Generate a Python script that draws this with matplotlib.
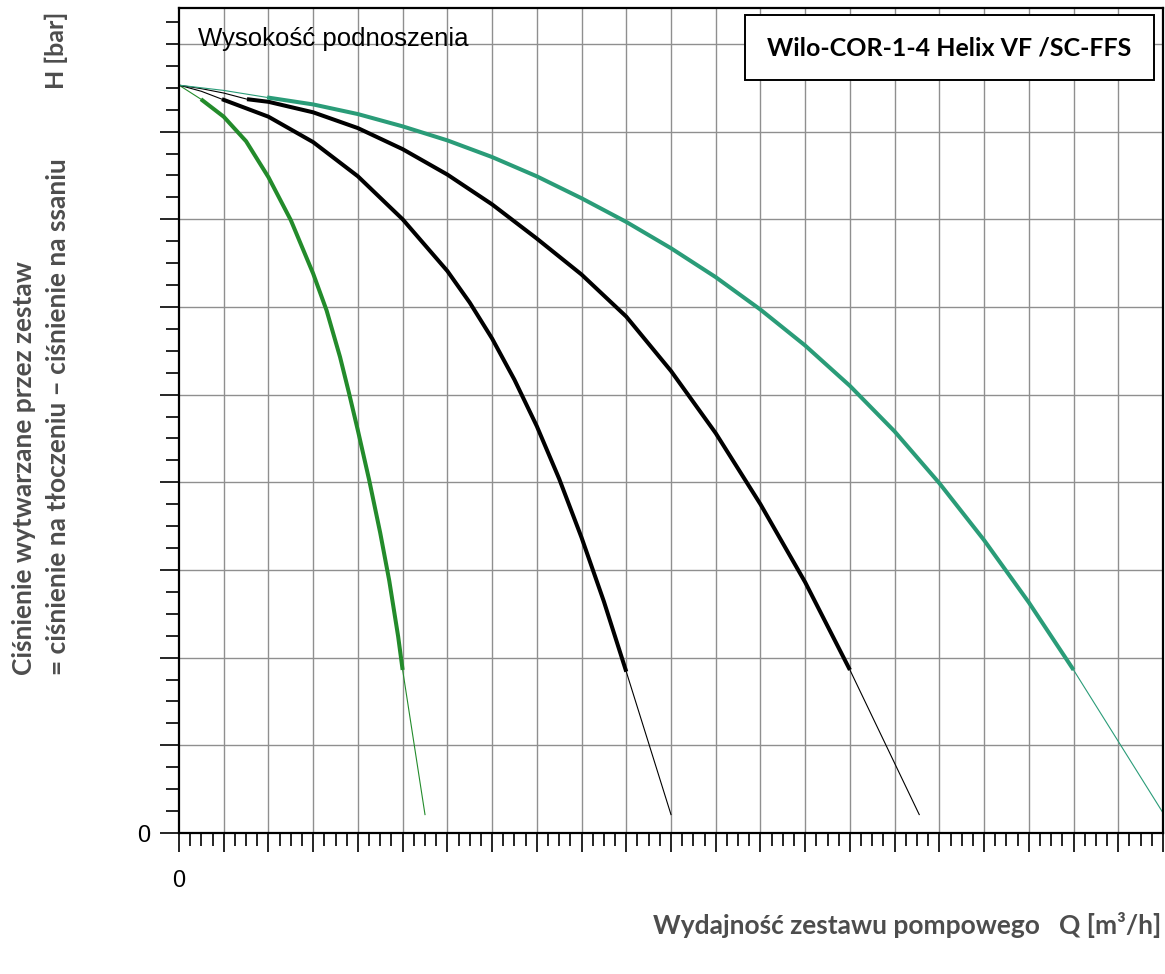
import numpy as np
import matplotlib
matplotlib.use("Agg")
import matplotlib.pyplot as plt
from matplotlib.patches import Rectangle

# Charakterystyki Q-H
H0 = 8.53  # ciśnienie przy Q = 0

# 1 pompa (zielona)
q1_head = [0.0, 0.49]
h1_head = [H0, 8.37]
q1 = [0.49, 1.0, 1.5, 2.0, 2.5, 3.0, 3.3, 3.6, 3.8, 4.0, 4.25, 4.5, 4.7, 4.9, 5.0]
h1 = [8.37, 8.17, 7.89, 7.48, 6.99, 6.38, 5.96, 5.43, 5.02, 4.59, 4.03, 3.42, 2.88, 2.24, 1.86]
q1_tail = [5.0, 5.5]
h1_tail = [1.86, 0.21]

# 2 pompy
q2_head = [0.0, 0.5, 0.96]
h2_head = [H0, 8.46, 8.37]
q2 = [0.96, 2.0, 3.0, 4.0, 5.0, 6.0, 6.5, 7.0, 7.5, 8.0, 8.5, 9.0, 9.5, 10.0]
h2 = [8.37, 8.17, 7.88, 7.49, 7.0, 6.41, 6.05, 5.64, 5.17, 4.64, 4.04, 3.37, 2.64, 1.84]
q2_tail = [10.0, 11.0]
h2_tail = [1.84, 0.21]

# 3 pompy
q3_head = [0.0, 0.5, 1.0, 1.52]
h3_head = [H0, 8.49, 8.44, 8.37]
q3 = [1.52, 2, 3, 4, 5, 6, 7, 8, 9, 10, 11, 12, 13, 14, 15.0]
h3 = [8.37, 8.34, 8.22, 8.04, 7.80, 7.51, 7.17, 6.78, 6.37, 5.89, 5.27, 4.56, 3.75, 2.86, 1.86]
q3_tail = [15.0, 16.55]
h3_tail = [1.86, 0.21]

# 4 pompy (turkusowa)
q4_head = [0.0, 1.0, 1.97]
h4_head = [H0, 8.47, 8.39]
q4 = [1.97, 3, 4, 5, 6, 7, 8, 9, 10, 11, 12, 13, 14, 15, 16, 17, 18, 19, 20]
h4 = [8.39, 8.31, 8.20, 8.06, 7.90, 7.71, 7.49, 7.24, 6.97, 6.67, 6.34, 5.97,
      5.56, 5.10, 4.58, 3.99, 3.34, 2.63, 1.86]
q4_tail = [20.0, 22.0]
h4_tail = [1.86, 0.23]

GREEN = "#238b2b"
TEAL = "#2a9c78"
LABEL_GRAY = "#4d4d4d"

W, H = 1165, 974
fig = plt.figure(figsize=(W / 100, H / 100), dpi=100)
fig.patch.set_facecolor("white")
ax = fig.add_axes([179 / W, 1 - 833 / H, 984 / W, 825 / H])

ax.set_xlim(0, 22)
ax.set_ylim(0, 9.41)

# Siatka
for xv in range(1, 22):
    ax.axvline(xv, color="#8f8f8f", lw=1.0, zorder=0)
for yv in range(1, 10):
    ax.axhline(yv, color="#8f8f8f", lw=1.0, zorder=0)

# Krzywe
curves = [
    (q1_head, h1_head, q1, h1, q1_tail, h1_tail, GREEN),
    (q2_head, h2_head, q2, h2, q2_tail, h2_tail, "black"),
    (q3_head, h3_head, q3, h3, q3_tail, h3_tail, "black"),
    (q4_head, h4_head, q4, h4, q4_tail, h4_tail, TEAL),
]
for qa, ha, qb, hb, qc, hc, col in curves:
    ax.plot(qa, ha, color=col, lw=0.8, zorder=3)
    ax.plot(qb, hb, color=col, lw=2.9, zorder=3, solid_capstyle="butt",
            solid_joinstyle="round")
    ax.plot(qc, hc, color=col, lw=0.8, zorder=3)

# Osie i znaczniki
ax.set_xticks(range(23))
ax.set_xticks(np.arange(0, 22.01, 0.25), minor=True)
ax.set_xticklabels(["0"] + [""] * 22)
ax.set_yticks(range(9))
ax.set_yticks(np.arange(0, 9.3, 0.25), minor=True)
ax.set_yticklabels(["0"] + [""] * 8)
ax.tick_params(axis="both", which="both", direction="out", color="black",
               labelsize=17, labelcolor="black")
ax.tick_params(axis="x", which="major", length=13.5, width=1.2, pad=13)
ax.tick_params(axis="x", which="minor", length=9.5, width=1.2)
ax.tick_params(axis="y", which="major", length=14, width=1.2, pad=7)
ax.tick_params(axis="y", which="minor", length=9.5, width=1.2)
for lbl in ax.get_xticklabels() + ax.get_yticklabels():
    lbl.set_fontfamily("Liberation Sans")
for sp in ax.spines.values():
    sp.set_linewidth(1.6)
    sp.set_color("black")
    sp.set_zorder(4)

# Opisy
ax.text(198 / W, 1 - 46 / H, "Wysokość podnoszenia", transform=fig.transFigure,
        fontsize=18.5, family="Liberation Sans", va="baseline", ha="left", zorder=5)

box = Rectangle(((745 - 179) / 984, (833 - 80) / 825), 409 / 984, 65 / 825,
                transform=ax.transAxes, facecolor="white", edgecolor="black",
                lw=1.4, zorder=5)
ax.add_patch(box)
ax.text((949.5 - 179) / 984, (833 - 47.5) / 825, "Wilo-COR-1-4 Helix VF /SC-FFS",
        transform=ax.transAxes, ha="center", va="center", fontsize=18,
        family="Lato", fontweight="bold", zorder=6)

fig.text(24 / W, 1 - 675 / H, "Ciśnienie wytwarzane przez zestaw", rotation=90,
         ha="center", va="bottom", fontsize=19, family="Lato", fontweight="bold",
         color=LABEL_GRAY)
fig.text(58 / W, 1 - 675 / H, "= ciśnienie na tłoczeniu – ciśnienie na ssaniu",
         rotation=90, ha="center", va="bottom", fontsize=19, family="Lato",
         fontweight="bold", color=LABEL_GRAY)
fig.text(56 / W, 1 - 12 / H, "H [bar]", rotation=90, ha="center", va="top",
         fontsize=18, family="Lato", fontweight="bold", color=LABEL_GRAY)
fig.text(1161 / W, 1 - 925 / H, "Wydajność zestawu pompowego   Q [m³/h]",
         ha="right", va="center", fontsize=19, family="Lato", fontweight="bold",
         color=LABEL_GRAY)

fig.savefig("out.png", dpi=100)
